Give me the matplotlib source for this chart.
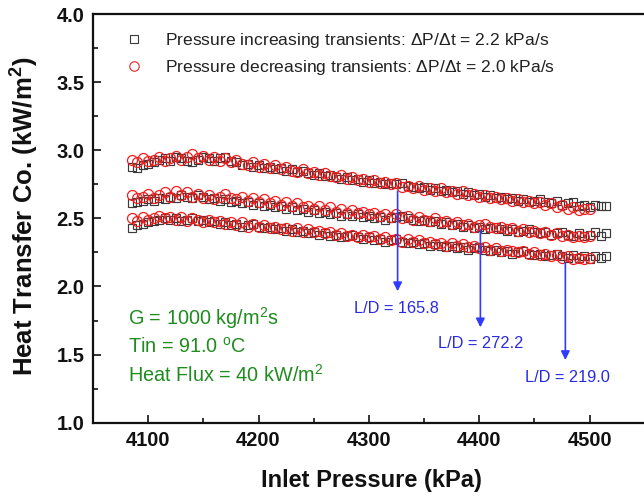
import matplotlib
matplotlib.use("Agg")
import matplotlib.pyplot as plt
from matplotlib.ticker import FixedLocator
from matplotlib.lines import Line2D

plt.rcParams['font.family'] = ['Liberation Sans', 'DejaVu Sans']
plt.rcParams['mathtext.fontset'] = 'custom'
plt.rcParams['mathtext.rm'] = 'Liberation Sans'
plt.rcParams['mathtext.bf'] = 'Liberation Sans:bold'

# ---------------- data ----------------
# pressure values (kPa) for increasing transients (squares)
x_inc = [4085, 4090, 4095, 4100, 4105, 4110, 4115, 4120, 4125, 4130,
         4135, 4140, 4145, 4150, 4155, 4160, 4165, 4170, 4175, 4180,
         4185, 4190, 4195, 4200, 4205, 4210, 4215, 4220, 4225, 4230,
         4235, 4240, 4245, 4250, 4255, 4260, 4265, 4270, 4275, 4280,
         4285, 4290, 4295, 4300, 4305, 4310, 4315, 4320, 4325, 4330,
         4335, 4340, 4345, 4350, 4355, 4360, 4365, 4370, 4375, 4380,
         4385, 4390, 4395, 4400, 4405, 4410, 4415, 4420, 4425, 4430,
         4435, 4440, 4445, 4450, 4455, 4460, 4465, 4470, 4475, 4480,
         4485, 4490, 4495, 4500, 4505, 4510, 4515]
# pressure values (kPa) for decreasing transients (circles)
x_dec = [4085, 4090, 4095, 4100, 4105, 4110, 4115, 4120, 4125, 4130,
         4135, 4140, 4145, 4150, 4155, 4160, 4165, 4170, 4175, 4180,
         4185, 4190, 4195, 4200, 4205, 4210, 4215, 4220, 4225, 4230,
         4235, 4240, 4245, 4250, 4255, 4260, 4265, 4270, 4275, 4280,
         4285, 4290, 4295, 4300, 4305, 4310, 4315, 4320, 4325, 4330,
         4335, 4340, 4345, 4350, 4355, 4360, 4365, 4370, 4375, 4380,
         4385, 4390, 4395, 4400, 4405, 4410, 4415, 4420, 4425, 4430,
         4435, 4440, 4445, 4450, 4455, 4460, 4465, 4470, 4475, 4480,
         4485, 4490, 4495, 4500]

# L/D = 165.8 (top band)
h_inc_165 = [2.88, 2.87, 2.89, 2.90, 2.91, 2.93, 2.94, 2.92, 2.95, 2.94,
             2.92, 2.91, 2.93, 2.95, 2.94, 2.92, 2.94, 2.95, 2.92, 2.91,
             2.89, 2.90, 2.88, 2.89, 2.87, 2.88, 2.86, 2.87, 2.85, 2.86,
             2.84, 2.85, 2.83, 2.82, 2.83, 2.81, 2.82, 2.80, 2.79, 2.80,
             2.78, 2.79, 2.77, 2.78, 2.76, 2.77, 2.75, 2.76, 2.75, 2.76,
             2.74, 2.73, 2.72, 2.73, 2.71, 2.72, 2.70, 2.71, 2.69, 2.70,
             2.68, 2.69, 2.67, 2.68, 2.66, 2.67, 2.65, 2.66, 2.64, 2.65,
             2.63, 2.64, 2.62, 2.63, 2.64, 2.62, 2.61, 2.63, 2.60, 2.61,
             2.62, 2.59, 2.60, 2.58, 2.60, 2.59, 2.59]
h_dec_165 = [2.93, 2.91, 2.94, 2.92, 2.93, 2.95, 2.92, 2.94, 2.96, 2.93,
             2.95, 2.97, 2.94, 2.96, 2.93, 2.95, 2.92, 2.94, 2.91, 2.93,
             2.90, 2.89, 2.91, 2.88, 2.90, 2.87, 2.89, 2.86, 2.88, 2.85,
             2.84, 2.86, 2.83, 2.84, 2.82, 2.83, 2.81, 2.80, 2.82, 2.79,
             2.80, 2.78, 2.79, 2.77, 2.78, 2.76, 2.77, 2.75, 2.76, 2.73,
             2.74, 2.72, 2.74, 2.71, 2.72, 2.70, 2.72, 2.69, 2.70, 2.68,
             2.70, 2.67, 2.68, 2.66, 2.67, 2.65, 2.66, 2.64, 2.65, 2.63,
             2.64, 2.62, 2.63, 2.61, 2.62, 2.60, 2.61, 2.58, 2.60, 2.57,
             2.58, 2.56, 2.57, 2.57]

# L/D = 272.2 (middle band)
h_inc_272 = [2.61, 2.62, 2.63, 2.64, 2.63, 2.65, 2.64, 2.66, 2.65, 2.67,
             2.66, 2.65, 2.67, 2.66, 2.64, 2.65, 2.63, 2.64, 2.62, 2.63,
             2.61, 2.62, 2.60, 2.61, 2.59, 2.60, 2.58, 2.59, 2.57, 2.58,
             2.56, 2.57, 2.55, 2.56, 2.54, 2.55, 2.53, 2.54, 2.52, 2.53,
             2.52, 2.53, 2.51, 2.52, 2.50, 2.51, 2.49, 2.50, 2.51, 2.52,
             2.50, 2.49, 2.48, 2.49, 2.47, 2.48, 2.46, 2.47, 2.45, 2.46,
             2.44, 2.45, 2.43, 2.44, 2.42, 2.43, 2.44, 2.42, 2.41, 2.42,
             2.40, 2.41, 2.42, 2.40, 2.39, 2.40, 2.38, 2.39, 2.40, 2.38,
             2.37, 2.39, 2.37, 2.38, 2.40, 2.37, 2.39]
h_dec_272 = [2.67, 2.65, 2.66, 2.68, 2.65, 2.67, 2.69, 2.66, 2.70, 2.67,
             2.69, 2.66, 2.68, 2.65, 2.67, 2.64, 2.66, 2.68, 2.65, 2.64,
             2.66, 2.63, 2.65, 2.62, 2.64, 2.61, 2.63, 2.60, 2.62, 2.59,
             2.61, 2.58, 2.59, 2.57, 2.59, 2.56, 2.58, 2.55, 2.57, 2.54,
             2.56, 2.54, 2.55, 2.53, 2.54, 2.52, 2.53, 2.51, 2.53, 2.50,
             2.52, 2.49, 2.51, 2.49, 2.48, 2.50, 2.47, 2.48, 2.46, 2.47,
             2.45, 2.46, 2.44, 2.45, 2.46, 2.44, 2.43, 2.44, 2.42, 2.43,
             2.41, 2.42, 2.40, 2.41, 2.39, 2.40, 2.38, 2.39, 2.37, 2.38,
             2.36, 2.37, 2.36, 2.37]

# L/D = 219.0 (bottom band)
h_inc_219 = [2.43, 2.45, 2.46, 2.47, 2.48, 2.49, 2.50, 2.49, 2.50, 2.48,
             2.49, 2.50, 2.48, 2.49, 2.47, 2.48, 2.46, 2.47, 2.45, 2.46,
             2.44, 2.45, 2.46, 2.44, 2.43, 2.44, 2.42, 2.43, 2.41, 2.42,
             2.40, 2.41, 2.39, 2.40, 2.38, 2.39, 2.37, 2.38, 2.36, 2.37,
             2.38, 2.36, 2.35, 2.36, 2.34, 2.35, 2.33, 2.34, 2.35, 2.33,
             2.32, 2.33, 2.31, 2.32, 2.30, 2.31, 2.30, 2.29, 2.30, 2.28,
             2.29, 2.27, 2.28, 2.29, 2.27, 2.26, 2.27, 2.25, 2.26, 2.24,
             2.25, 2.26, 2.24, 2.23, 2.24, 2.22, 2.23, 2.24, 2.22, 2.21,
             2.23, 2.21, 2.22, 2.20, 2.22, 2.21, 2.22]
h_dec_219 = [2.50, 2.48, 2.51, 2.49, 2.50, 2.52, 2.50, 2.51, 2.49, 2.51,
             2.48, 2.50, 2.49, 2.47, 2.49, 2.47, 2.48, 2.46, 2.47, 2.45,
             2.47, 2.44, 2.46, 2.44, 2.45, 2.43, 2.44, 2.42, 2.43, 2.41,
             2.43, 2.40, 2.42, 2.40, 2.41, 2.39, 2.40, 2.38, 2.39, 2.37,
             2.38, 2.36, 2.38, 2.36, 2.37, 2.35, 2.36, 2.34, 2.35, 2.33,
             2.35, 2.33, 2.34, 2.32, 2.33, 2.31, 2.32, 2.30, 2.32, 2.30,
             2.31, 2.29, 2.30, 2.28, 2.29, 2.27, 2.28, 2.26, 2.27, 2.26,
             2.25, 2.26, 2.24, 2.25, 2.23, 2.24, 2.22, 2.23, 2.21, 2.22,
             2.20, 2.21, 2.20, 2.21]

inc_series = [h_inc_165, h_inc_272, h_inc_219]
dec_series = [h_dec_165, h_dec_272, h_dec_219]

x_major = [4100, 4200, 4300, 4400, 4500]
x_minor = [4050, 4150, 4250, 4350, 4450, 4550]
y_major = [1.0, 1.5, 2.0, 2.5, 3.0, 3.5, 4.0]
y_minor = [1.25, 1.75, 2.25, 2.75, 3.25, 3.75]

# arrow annotations
ld_labels = ["L/D = 165.8", "L/D = 272.2", "L/D = 219.0"]
ld_x = [4326, 4401, 4478]
ld_from = [2.70, 2.415, 2.175]
ld_to = [1.965, 1.70, 1.46]
ld_text_x = [4325, 4401, 4480]
ld_text_y = [1.84, 1.58, 1.33]

legend_labels = [r"Pressure increasing transients: $\Delta$P/$\Delta$t = 2.2 kPa/s",
                 r"Pressure decreasing transients: $\Delta$P/$\Delta$t = 2.0 kPa/s"]
cond_lines = [r"G = 1000 kg/m$^2$s", r"Tin = 91.0 $^{\rm o}$C", r"Heat Flux = 40 kW/m$^2$"]
cond_y = [1.765, 1.555, 1.35]

# ---------------- figure ----------------
W, H = 644, 496
fig = plt.figure(figsize=(W / 100, H / 100), dpi=100)
left_px, right_px, top_px, bot_px = 93, 700, 14, 422.7
ax = fig.add_axes([left_px / W, 1 - bot_px / H, (right_px - left_px) / W, (bot_px - top_px) / H])

sq_color = '#3a3a3a'
red = '#ee2020'
sq_ms, ci_ms = 5.8, 7.2
for ys in inc_series:
    ax.plot(x_inc, ys, linestyle='none', marker='s', markersize=sq_ms, markerfacecolor='none',
            markeredgecolor=sq_color, markeredgewidth=0.85)
for ys in dec_series:
    ax.plot(x_dec, ys, linestyle='none', marker='o', markersize=ci_ms, markerfacecolor='none',
            markeredgecolor=red, markeredgewidth=0.9)

ax.set_xlim(4050, 4600)
ax.set_ylim(1.0, 4.0)
ax.xaxis.set_major_locator(FixedLocator(x_major))
ax.xaxis.set_minor_locator(FixedLocator(x_minor))
ax.yaxis.set_major_locator(FixedLocator(y_major))
ax.yaxis.set_minor_locator(FixedLocator(y_minor))
ax.set_xticklabels([str(v) for v in x_major], fontweight='bold')
ax.set_yticklabels([f"{v:.1f}" for v in y_major], fontweight='bold')
ax.tick_params(which='both', direction='in', width=1.2, colors='#111111')
ax.tick_params(which='major', length=6, labelsize=14.5, pad=6)
ax.tick_params(which='minor', length=3.5)

for sp in ax.spines.values():
    sp.set_linewidth(1.6)
    sp.set_color('#111111')

fig.text(371 / W, 1 - 480 / H, "Inlet Pressure (kPa)", ha='center', va='center',
         fontsize=17, fontweight='bold', color='#111111')
fig.text(25 / W, 1 - 216 / H, r"Heat Transfer Co. (kW/m$\mathbf{^2}$)", ha='center', va='center',
         rotation=90, fontsize=18.5, fontweight='bold', color='#111111')

# legend
handles = [Line2D([], [], linestyle='none', marker='s', markersize=5.2, markerfacecolor='none',
                  markeredgecolor=sq_color, markeredgewidth=0.8),
           Line2D([], [], linestyle='none', marker='o', markersize=6.8, markerfacecolor='none',
                  markeredgecolor=red, markeredgewidth=0.8)]
leg = ax.legend(handles, legend_labels, loc='upper left', bbox_to_anchor=(123 / W, 1 - 31 / H),
                bbox_transform=fig.transFigure, frameon=False, fontsize=12.6, handlelength=1.2,
                handletextpad=1.2, borderpad=0, borderaxespad=0, labelspacing=0.45)
for t in leg.get_texts():
    t.set_color('#222222')

# arrows with L/D labels
blue = '#2f3cff'
for lab, xv, y0, y1, tx, ty in zip(ld_labels, ld_x, ld_from, ld_to, ld_text_x, ld_text_y):
    ax.annotate('', xy=(xv, y1), xytext=(xv, y0),
                arrowprops=dict(arrowstyle='-|>', color=blue, lw=1.2, mutation_scale=13,
                                shrinkA=0, shrinkB=0))
    ax.text(tx, ty, lab, ha='center', va='center', fontsize=11.8, color='#2a2ae0')

for s, yv in zip(cond_lines, cond_y):
    ax.text(4082, yv, s, ha='left', va='center', fontsize=14.3, color='#1f8c1f')

fig.savefig("out.png", dpi=100)
